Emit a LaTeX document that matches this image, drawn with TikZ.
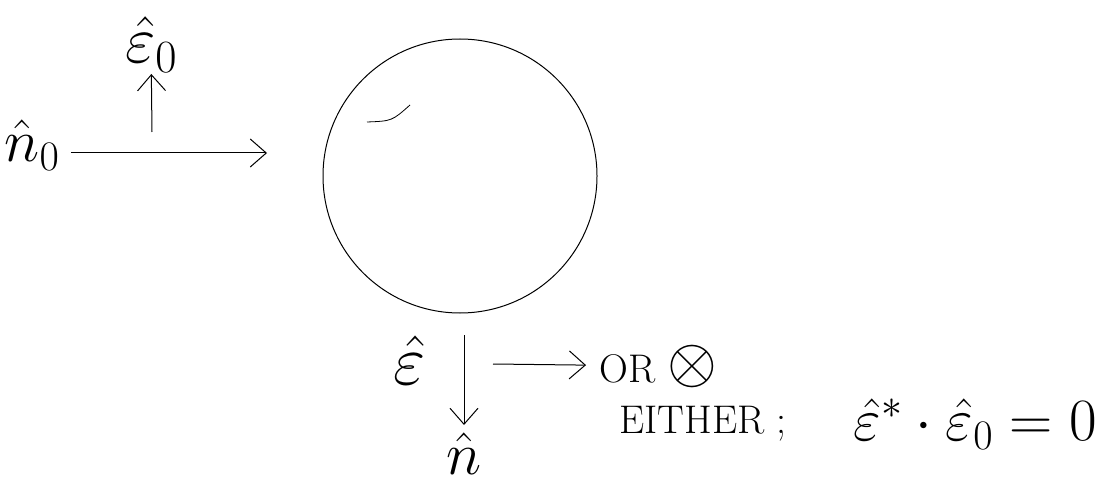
\RequirePackage{fix-cm}
\documentclass[tikz,border=0pt]{standalone}
\usepackage{fontspec}
\usetikzlibrary{arrows.meta,positioning}
\tikzset{
  lbl/.style={inner sep=1pt,font=\fontsize{60}{64}\selectfont},
  txt/.style={inner sep=1pt,font=\fontsize{40}{46}\selectfont}
}
\begin{document}
\begin{tikzpicture}[>={Straight Barb[length=16pt,width=28pt]}, x=1pt, y=-1pt, line width=1pt]
  \useasboundingbox (0,0) rectangle (1098,484);
  \node[circle,draw,minimum size=274pt,inner sep=0pt] (ball) at (460,176) {};
  \draw[line width=0.8pt] (367,122) .. controls (392,121) .. (410,105);
  % incoming wave
  \node[lbl] (nzero) at (32,145) {$\hat{n}_0$};
  \coordinate (inTip) at (267,153);
  \draw[->,shorten <=10pt] (nzero.east |- inTip) -- (inTip);
  \coordinate (upTail) at (152,132);
  \node[lbl,anchor=south,font=\fontsize{66}{70}\selectfont] (epszero) at (151,74) {$\hat{\varepsilon}_0$};
  \draw[->] (upTail) -- (epszero);
  % scattered wave
  \coordinate (downTail) at (464,335);
  \node[lbl,anchor=north] (nhat) at (464,431) {$\hat{n}$};
  \draw[->,shorten >=6pt] (downTail) -- (nhat);
  \node[lbl,font=\fontsize{70}{74}\selectfont] (epshat) at (410,360) {$\hat{\varepsilon}$};
  \coordinate (sideTail) at (493,364);
  \node[txt,anchor=west] (orlbl) at (598,366) {OR~{\fontsize{64}{68}\selectfont$\otimes$}};
  \draw[->,shorten >=12pt] (sideTail) -- (orlbl);
  \node[txt,anchor=west] (eitherlbl) at (618,424) {EITHER ;};
  \node[lbl,right=64pt of eitherlbl] (orth) {$\hat{\varepsilon}^{*}\cdot\hat{\varepsilon}_0=0$};
\end{tikzpicture}
\end{document}
